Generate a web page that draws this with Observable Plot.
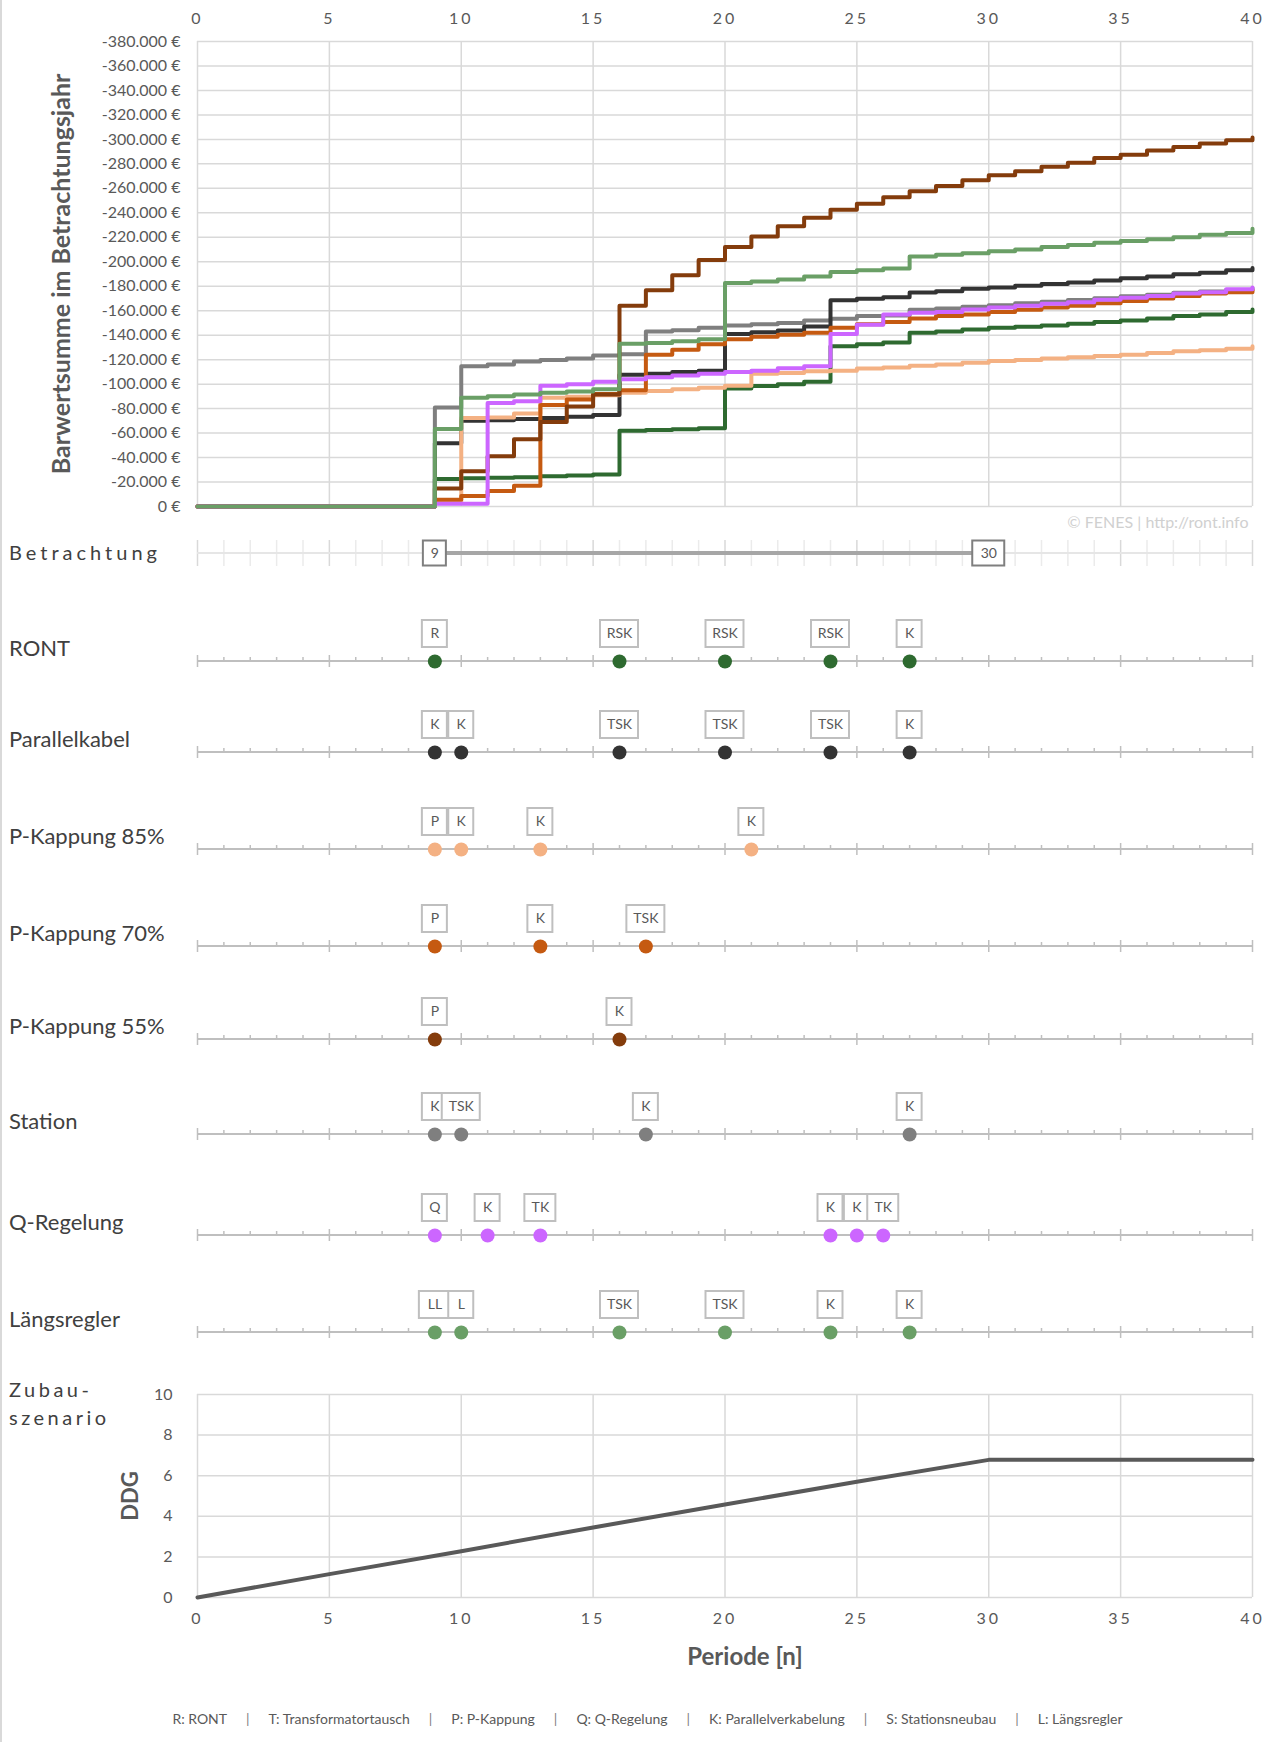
<!DOCTYPE html>
<html><head><meta charset="utf-8">
<script src="https://cdn.jsdelivr.net/npm/d3@7"></script>
<script src="https://cdn.jsdelivr.net/npm/@observablehq/plot@0.6"></script>
<style>
body{margin:0;background:#fff;}
#page{position:relative;width:1269px;height:1742px;overflow:hidden;font-family:Lato,sans-serif;background:#fff;}
.abs{position:absolute;}
.spaced [aria-label="x-axis tick label"] text{letter-spacing:3px;}
.lbl{position:absolute;left:9px;color:#404040;font-family:Lato,sans-serif;white-space:nowrap;}
#legend{position:absolute;left:0;width:1269px;text-align:center;font-family:Lato,sans-serif;font-size:14px;color:#595959;white-space:nowrap;}
#legend .sep{margin:0 19px;color:#7f7f7f;}
</style>
</head><body><div id="page"></div>
<script>
// ---------- data ----------
const periods = [0,1,2,3,4,5,6,7,8,9,10,11,12,13,14,15,16,17,18,19,20,21,22,23,24,25,26,27,28,29,30,31,32,33,34,35,36,37,38,39,40];
const xTickValues = [0,5,10,15,20,25,30,35,40];
const yTickValuesTop = [0,-20000,-40000,-60000,-80000,-100000,-120000,-140000,-160000,-180000,-200000,-220000,-240000,-260000,-280000,-300000,-320000,-340000,-360000,-380000];
const yTickValuesBottom = [0,2,4,6,8,10];

const station = [0,0,0,0,0,0,0,0,0,-81000,-114700,-116000,-118400,-119800,-121000,-123500,-124500,-143000,-144000,-146000,-148000,-149000,-150000,-152000,-153500,-155600,-156000,-160700,-161800,-163200,-164500,-166000,-167300,-168800,-170200,-171800,-173000,-174600,-175800,-177000,-178500];
const parallelkabel = [0,0,0,0,0,0,0,0,0,-51600,-70000,-70500,-71600,-72400,-73300,-74700,-107700,-108500,-110000,-111000,-141000,-142400,-143800,-147000,-168600,-169700,-171000,-174800,-176000,-178000,-179000,-180400,-181800,-183000,-184600,-186600,-188000,-189700,-191000,-193000,-195000];
const ront = [0,0,0,0,0,0,0,0,0,-22500,-23000,-23500,-24000,-24800,-25400,-26200,-62000,-62600,-63200,-64000,-96500,-98500,-100000,-102000,-131000,-132500,-134000,-142000,-143000,-144600,-146000,-146800,-148000,-149400,-150800,-152000,-153600,-155600,-157000,-159000,-161000];
const pk85 = [0,0,0,0,0,0,0,0,0,-4000,-72400,-72800,-76000,-88800,-89600,-91000,-93000,-94400,-95800,-97000,-98600,-108500,-109000,-110500,-111000,-112700,-113600,-115000,-116000,-117500,-119000,-119800,-121000,-122000,-123000,-124000,-125400,-126800,-127700,-129000,-131000];
const pk70 = [0,0,0,0,0,0,0,0,0,-5600,-8500,-12700,-17000,-83000,-87500,-92000,-95000,-124000,-128000,-132500,-136700,-138700,-140400,-142000,-146000,-149000,-150800,-153600,-155600,-157000,-159000,-160700,-162600,-164000,-166000,-168000,-170000,-172000,-174000,-175000,-177000];
const pk55 = [0,0,0,0,0,0,0,0,0,-14700,-28800,-41000,-55000,-69000,-81700,-91600,-164000,-176700,-189000,-201500,-212000,-220700,-229000,-236000,-242500,-247500,-252800,-257600,-262000,-266700,-270600,-274000,-277600,-281000,-284700,-287500,-291000,-293700,-296600,-299400,-301600];
const qreg = [0,0,0,0,0,0,0,0,0,-2300,-2300,-84600,-86000,-98700,-100000,-102000,-104000,-105700,-107000,-108500,-110000,-111000,-113000,-114700,-141000,-148500,-157000,-158400,-159000,-161000,-162600,-164000,-165700,-167000,-169000,-170500,-172000,-174000,-175000,-177600,-179000];
const laengs = [0,0,0,0,0,0,0,0,0,-63400,-88800,-90000,-91600,-93000,-94000,-95800,-133000,-133600,-135000,-136700,-182600,-183800,-185500,-188000,-191700,-193000,-194500,-204400,-205800,-207000,-208600,-210000,-212000,-213700,-215600,-217000,-218500,-220000,-222000,-223500,-227000];

const seriesNames = ["Station","Parallelkabel","RONT","P-Kappung 85%","P-Kappung 70%","P-Kappung 55%","Q-Regelung","Längsregler"];
const seriesValues = [station, parallelkabel, ront, pk85, pk70, pk55, qreg, laengs];
const seriesColors = ["#7f7f7f","#333333","#2e6a30","#f4b183","#c55a11","#843c0c","#cc66ff","#6a9f66"];

const betrachtung = [9, 30];
const evRONT = [[9,"R"],[16,"RSK"],[20,"RSK"],[24,"RSK"],[27,"K"]];
const evParallel = [[9,"K"],[10,"K"],[16,"TSK"],[20,"TSK"],[24,"TSK"],[27,"K"]];
const evPK85 = [[9,"P"],[10,"K"],[13,"K"],[21,"K"]];
const evPK70 = [[9,"P"],[13,"K"],[17,"TSK"]];
const evPK55 = [[9,"P"],[16,"K"]];
const evStation = [[9,"K"],[10,"TSK"],[17,"K"],[27,"K"]];
const evQ = [[9,"Q"],[11,"K"],[13,"TK"],[24,"K"],[25,"K"],[26,"TK"]];
const evLaengs = [[9,"LL"],[10,"L"],[16,"TSK"],[20,"TSK"],[24,"K"],[27,"K"]];

const ddgPeriods = [0,5,10,15,20,25,30,35,40];
const ddgValues = [0,1.15,2.28,3.45,4.58,5.7,6.78,6.78,6.78];

const legendItems = ["R: RONT","T: Transformatortausch","P: P-Kappung","Q: Q-Regelung","K: Parallelverkabelung","S: Stationsneubau","L: Längsregler"];

// ---------- layout ----------
const W = 1269, ML = 197, MR = 17;
const xDomain = [0, 40];
const unit = (W - ML - MR) / (xDomain[1] - xDomain[0]);
const baseStyle = "font-family: Lato, sans-serif; font-size: 16px; background: transparent; overflow: visible; color: #595959;";
const page = document.getElementById("page");
function place(node, top, cls) {
  const d = document.createElement("div");
  d.className = "abs" + (cls ? " " + cls : "");
  d.style.left = "0px"; d.style.top = top + "px";
  d.appendChild(node); page.appendChild(d);
}
function label(text, top, size, spacing) {
  const d = document.createElement("div");
  d.className = "lbl"; d.textContent = text;
  d.style.fontSize = size + "px"; d.style.lineHeight = size + "px";
  d.style.top = (top - size / 2) + "px";
  if (spacing) d.style.letterSpacing = spacing + "px";
  page.appendChild(d);
}
const de = d3.formatLocale({decimal: ",", thousands: ".", grouping: [3], currency: ["", " €"], minus: "-"});
const euro = de.format("$,.0f");

// ---------- top chart ----------
const lineData = seriesNames.flatMap((s, k) => seriesValues[k].map((v, i) => ({series: s, n: periods[i], v})));
const topPlot = Plot.plot({
  width: W, height: 540, marginLeft: ML, marginRight: MR, marginTop: 41, marginBottom: 34,
  style: baseStyle,
  x: {domain: xDomain},
  y: {domain: [0, -380000]},
  color: {domain: seriesNames, range: seriesColors},
  marks: [
    Plot.gridX(xTickValues, {stroke: "#d9d9d9", strokeOpacity: 1, strokeWidth: 1.5}),
    Plot.gridY(yTickValuesTop, {stroke: "#d9d9d9", strokeOpacity: 1, strokeWidth: 1.5}),
    Plot.axisX(xTickValues, {anchor: "top", tickSize: 0, tickPadding: 18, label: null, fontSize: 16, fill: "#595959"}),
    Plot.axisY(yTickValuesTop, {anchor: "left", tickSize: 0, tickPadding: 17, tickFormat: euro, label: null, fontSize: 16, fill: "#595959"}),
    Plot.line(lineData, {x: "n", y: "v", z: "series", stroke: "series", curve: "step-after", strokeWidth: 4}),
    Plot.text(["Barwertsumme im Betrachtungsjahr"], {frameAnchor: "left", textAnchor: "middle", rotate: -90, dx: -136, fontSize: 25, fontWeight: "bold", fill: "#595959"}),
    Plot.text(["© FENES | http://ront.info"], {frameAnchor: "bottom-right", textAnchor: "end", dx: -4, dy: 21, fontSize: 16, fill: "#d0d0d0"})
  ]
});
place(topPlot, 0, "spaced");

// ---------- tracks ----------
const majorTicks = xTickValues;
const minorTicks = periods.filter(p => !xTickValues.includes(p));
function boxes(events, widths, opts) {
  const groups = d3.group(events, e => e.code.length);
  return Array.from(groups, ([len, evs]) => {
    const inset = (unit - widths[len]) / 2;
    return Plot.rect(evs, {x1: d => d.n - 0.5, x2: d => d.n + 0.5, insetLeft: inset, insetRight: inset, ...opts});
  });
}
const ROW_H = 80, ROW_MT = 40; // axis lies at frame middle = 60 px from svg top

// Betrachtung
{
  const evs = betrachtung.map(n => ({n, code: String(n)}));
  const p = Plot.plot({
    width: W, height: ROW_H, marginLeft: ML, marginRight: MR, marginTop: ROW_MT, marginBottom: 0,
    style: baseStyle, x: {domain: xDomain, axis: null},
    marks: [
      Plot.ruleX(minorTicks, {stroke: "#ebebeb", strokeWidth: 1.5, insetTop: 7, insetBottom: 7}),
      Plot.ruleX(majorTicks, {stroke: "#d9d9d9", strokeWidth: 1.5, insetTop: 7, insetBottom: 7}),
      Plot.rect([xDomain], {x1: d => d[0], x2: d => d[1], insetTop: 19, insetBottom: 19, fill: "#e6e6e6"}),
      Plot.rect([betrachtung], {x1: d => d[0], x2: d => d[1], insetTop: 18, insetBottom: 18, fill: "#a6a6a6"}),
      ...boxes(evs, {1: 23, 2: 32}, {insetTop: 7.5, insetBottom: 7.5, fill: "white", stroke: "#7f7f7f", strokeWidth: 2}),
      Plot.text(evs, {x: "n", text: "code", frameAnchor: "middle", fontSize: 14, fill: "#595959"})
    ]
  });
  place(p, 553 - 60);
  label("Betrachtung", 552, 20, 4);
}

const rows = [
  ["RONT", evRONT, "#2e6a30", 661],
  ["Parallelkabel", evParallel, "#333333", 752],
  ["P-Kappung 85%", evPK85, "#f4b183", 849],
  ["P-Kappung 70%", evPK70, "#c55a11", 946],
  ["P-Kappung 55%", evPK55, "#843c0c", 1039],
  ["Station", evStation, "#7f7f7f", 1134],
  ["Q-Regelung", evQ, "#cc66ff", 1235],
  ["Längsregler", evLaengs, "#6a9f66", 1332]
];
for (const [name, ev, color, axisY] of rows) {
  const evs = ev.map(([n, code]) => ({n, code}));
  const p = Plot.plot({
    width: W, height: ROW_H, marginLeft: ML, marginRight: MR, marginTop: ROW_MT, marginBottom: 0,
    style: baseStyle, x: {domain: xDomain, axis: null},
    marks: [
      Plot.rect([xDomain], {x1: d => d[0], x2: d => d[1], insetTop: 19, insetBottom: 19, fill: "#bfbfbf"}),
      Plot.ruleX(minorTicks, {stroke: "#bfbfbf", strokeWidth: 1.5, insetTop: 16, insetBottom: 20}),
      Plot.ruleX(majorTicks, {stroke: "#bfbfbf", strokeWidth: 1.5, insetTop: 14, insetBottom: 14}),
      ...boxes(evs, {1: 25, 2: 31, 3: 38}, {insetTop: -21, insetBottom: 34, fill: "white", stroke: "#bfbfbf", strokeWidth: 2}),
      Plot.text(evs, {x: "n", text: "code", frameAnchor: "middle", dy: -27.5, fontSize: 14, fill: "#595959"}),
      Plot.dot(evs, {x: "n", r: 7, fill: color, frameAnchor: "middle"})
    ]
  });
  place(p, axisY - 60);
  label(name, axisY - 13, 22);
}

// ---------- bottom chart ----------
const ddg = ddgPeriods.map((n, i) => ({n, v: ddgValues[i]}));
const bottomPlot = Plot.plot({
  width: W, height: 300, marginLeft: ML, marginRight: MR, marginTop: 24, marginBottom: 73,
  style: baseStyle,
  x: {domain: xDomain},
  y: {domain: [0, 10]},
  marks: [
    Plot.gridX(xTickValues, {stroke: "#d9d9d9", strokeOpacity: 1, strokeWidth: 1.5}),
    Plot.gridY(yTickValuesBottom, {stroke: "#d9d9d9", strokeOpacity: 1, strokeWidth: 1.5}),
    Plot.axisX(xTickValues, {anchor: "bottom", tickSize: 0, tickPadding: 15, label: null, fontSize: 16, fill: "#595959"}),
    Plot.axisY(yTickValuesBottom, {anchor: "left", tickSize: 0, tickPadding: 25, label: null, fontSize: 16, fill: "#595959"}),
    Plot.line(ddg, {x: "n", y: "v", stroke: "#595959", strokeWidth: 4}),
    Plot.text(["DDG"], {frameAnchor: "left", textAnchor: "middle", rotate: -90, dx: -67, fontSize: 22, fontWeight: "bold", fill: "#595959"}),
    Plot.text(["Periode [n]"], {frameAnchor: "bottom", textAnchor: "middle", dx: 20, dy: 67, fontSize: 24, fontWeight: "bold", fill: "#595959"})
  ]
});
place(bottomPlot, 1370, "spaced");
label("Zubau-", 1389, 20, 3.5);
label("szenario", 1417, 20, 3.5);

// ---------- legend & border ----------
const leg = document.createElement("div");
leg.id = "legend"; leg.style.top = "1710px"; leg.style.paddingLeft = "26px"; leg.style.boxSizing = "border-box";
legendItems.forEach((t, i) => {
  if (i) { const s = document.createElement("span"); s.className = "sep"; s.textContent = "|"; leg.appendChild(s); }
  const s = document.createElement("span"); s.textContent = t; leg.appendChild(s);
});
page.appendChild(leg);
const border = document.createElement("div");
border.className = "abs";
Object.assign(border.style, {left: "0px", top: "0px", width: "2px", height: "1742px", background: "#d9d9d9"});
page.appendChild(border);
</script>
</body></html>
